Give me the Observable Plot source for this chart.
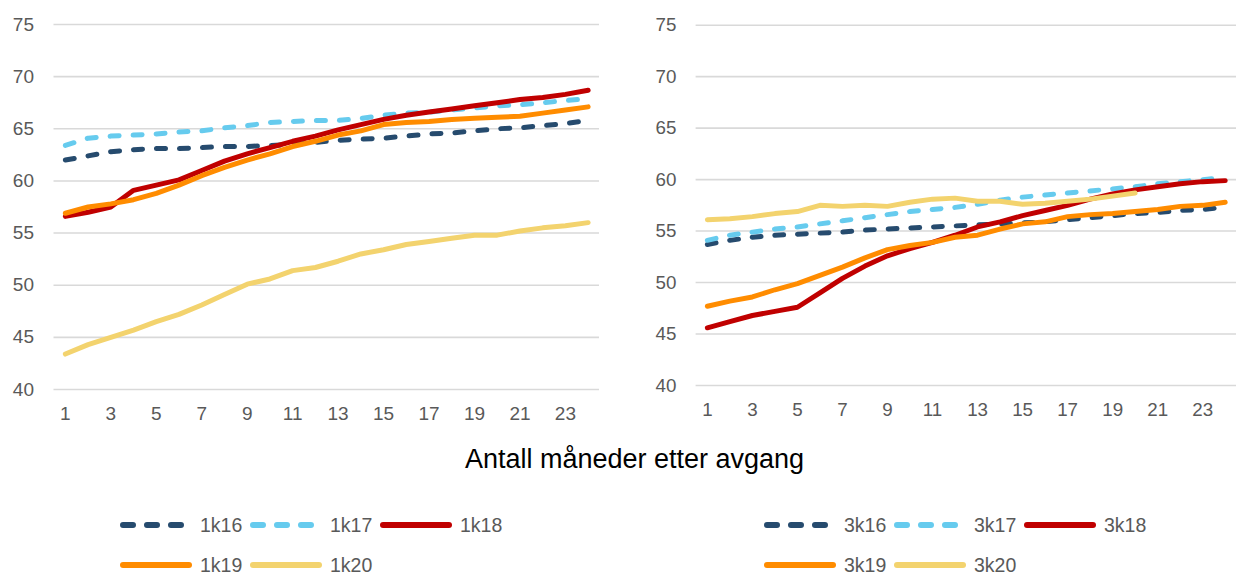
<!DOCTYPE html>
<html>
<head>
<meta charset="utf-8">
<script src="https://cdn.jsdelivr.net/npm/d3@7"></script>
<script src="https://cdn.jsdelivr.net/npm/@observablehq/plot@0.6"></script>
<style>
  html, body { margin: 0; padding: 0; background: #fff; }
  body { width: 1236px; height: 575px; overflow: hidden; position: relative;
         font-family: "Liberation Sans", Arial, sans-serif; }
  #left, #right { position: absolute; top: 0; }
  #left { left: 0; }
  #right { left: 618px; }
  #title { position: absolute; left: 0; width: 1269px; top: 444px; text-align: center;
           font-size: 27px; color: #000; }
  .legend { position: absolute; }
  .row { position: absolute; left: 0; display: flex; white-space: nowrap; }
  .item { width: 130px; display: flex; align-items: center; }
  .item span { font-size: 19.5px; color: #595959; margin-left: 8px; }
</style>
</head>
<body>
<div id="left"></div>
<div id="right"></div>
<div id="title">Antall måneder etter avgang</div>
<div id="legendLeft" class="legend" style="left:120px; top:0;"></div>
<div id="legendRight" class="legend" style="left:764px; top:0;"></div>
<script>
// ---------- data ----------
const months = [1,2,3,4,5,6,7,8,9,10,11,12,13,14,15,16,17,18,19,20,21,22,23,24];
const xTicks = [1,3,5,7,9,11,13,15,17,19,21,23];
const yTicks = [40,45,50,55,60,65,70,75];

const namesLeft  = ["1k16","1k17","1k18","1k19","1k20"];
const namesRight = ["3k16","3k17","3k18","3k19","3k20"];
const colors = ["#264b6e","#66cbee","#c00000","#ff8c00","#f3d36e"];
const dashed = [true, true, false, false, false];

const v1k16 = [62.0,62.4,62.8,63.0,63.1,63.1,63.2,63.3,63.3,63.4,63.5,63.7,63.9,64.0,64.1,64.3,64.5,64.6,64.8,65.0,65.1,65.3,65.5,65.8];
const v1k17 = [63.4,64.1,64.3,64.4,64.5,64.7,64.8,65.1,65.3,65.6,65.7,65.8,65.8,66.0,66.3,66.5,66.6,66.8,67.0,67.2,67.3,67.5,67.7,67.9];
const v1k18 = [56.6,57.0,57.5,59.1,59.6,60.1,61.0,61.9,62.6,63.2,63.8,64.3,64.9,65.4,65.9,66.3,66.6,66.9,67.2,67.5,67.8,68.0,68.3,68.7];
const v1k19 = [56.9,57.5,57.8,58.2,58.8,59.6,60.5,61.3,62.0,62.6,63.3,63.8,64.4,64.8,65.4,65.6,65.7,65.9,66.0,66.1,66.2,66.5,66.8,67.1];
const v1k20 = [43.4,44.3,45.0,45.7,46.5,47.2,48.1,49.1,50.1,50.6,51.4,51.7,52.3,53.0,53.4,53.9,54.2,54.5,54.8,54.8,55.2,55.5,55.7,56.0];

const v3k16 = [53.7,54.1,54.4,54.6,54.7,54.8,54.9,55.1,55.2,55.3,55.4,55.5,55.6,55.7,55.8,55.9,56.1,56.3,56.5,56.7,56.8,57.0,57.1,57.3];
const v3k17 = [54.1,54.6,54.9,55.2,55.4,55.7,56.0,56.3,56.6,56.9,57.1,57.3,57.6,58.0,58.3,58.5,58.7,58.9,59.1,59.3,59.6,59.8,60.0,60.2];
const v3k18 = [45.6,46.2,46.8,47.2,47.6,49.0,50.4,51.6,52.6,53.3,53.9,54.6,55.4,55.9,56.5,57.0,57.5,58.1,58.6,59.0,59.3,59.6,59.8,59.9];
const v3k19 = [47.7,48.2,48.6,49.3,49.9,50.7,51.5,52.4,53.2,53.6,53.9,54.4,54.6,55.2,55.7,55.9,56.4,56.6,56.7,56.9,57.1,57.4,57.5,57.8];
const v3k20 = [56.1,56.2,56.4,56.7,56.9,57.5,57.4,57.5,57.4,57.8,58.1,58.2,57.9,57.9,57.6,57.7,57.9,58.1,58.4,58.7];

const valuesLeft  = [v1k16, v1k17, v1k18, v1k19, v1k20];
const valuesRight = [v3k16, v3k17, v3k18, v3k19, v3k20];

// ---------- chart ----------
const font = '"Liberation Sans", Arial, sans-serif';

function panel(names, values, opts) {
  const lines = names.map((name, k) => {
    const rows = values[k].map((v, i) => ({month: months[i], value: v, series: name}));
    return Plot.line(rows, {
      x: "month", y: "value",
      stroke: colors[k], strokeWidth: 5,
      strokeDasharray: dashed[k] ? "9,14" : null,
      strokeLinecap: "round", strokeLinejoin: "round"
    });
  });
  return Plot.plot({
    width: opts.width, height: 430,
    marginLeft: opts.marginLeft, marginRight: opts.marginRight,
    marginTop: opts.marginTop, marginBottom: opts.marginBottom,
    style: {fontFamily: font, fontSize: "19px", color: "#595959", background: "transparent", overflow: "visible"},
    x: {type: "point", domain: months, padding: 0.5, round: false, label: null},
    y: {domain: [40, 75], label: null},
    marks: [
      Plot.gridY(yTicks, {stroke: "#d9d9d9", strokeOpacity: 1, strokeWidth: 1.6}),
      Plot.axisY(yTicks, {tickSize: 0, tickPadding: 20, fill: "#595959", label: null}),
      Plot.axisX(xTicks, {tickSize: 0, tickPadding: 17, fill: "#595959", label: null}),
      ...lines
    ]
  });
}

document.getElementById("left").append(panel(namesLeft, valuesLeft,
  {width: 618, marginLeft: 53.5, marginRight: 19, marginTop: 24, marginBottom: 41}));
document.getElementById("right").append(panel(namesRight, valuesRight,
  {width: 626, marginLeft: 78.6, marginRight: 0, marginTop: 25, marginBottom: 40}));

// ---------- legend ----------
function legend(containerId, names) {
  const root = d3.select("#" + containerId);
  const rows = [names.slice(0, 3), names.slice(3)];
  const tops = [525, 565];
  rows.forEach((rowNames, r) => {
    const row = root.append("div").attr("class", "row").style("top", (tops[r] - 12) + "px");
    rowNames.forEach(name => {
      const k = names.indexOf(name);
      const item = row.append("div").attr("class", "item").style("height", "24px");
      const svg = item.append("svg").attr("width", 72).attr("height", 24);
      svg.append("line")
        .attr("x1", 3).attr("x2", dashed[k] ? 66 : 69).attr("y1", 12).attr("y2", 12)
        .attr("stroke", colors[k]).attr("stroke-width", 6)
        .attr("stroke-linecap", "round")
        .attr("stroke-dasharray", dashed[k] ? "10,14" : null);
      item.append("span").text(name);
    });
  });
}
legend("legendLeft", namesLeft);
legend("legendRight", namesRight);
</script>
</body>
</html>
